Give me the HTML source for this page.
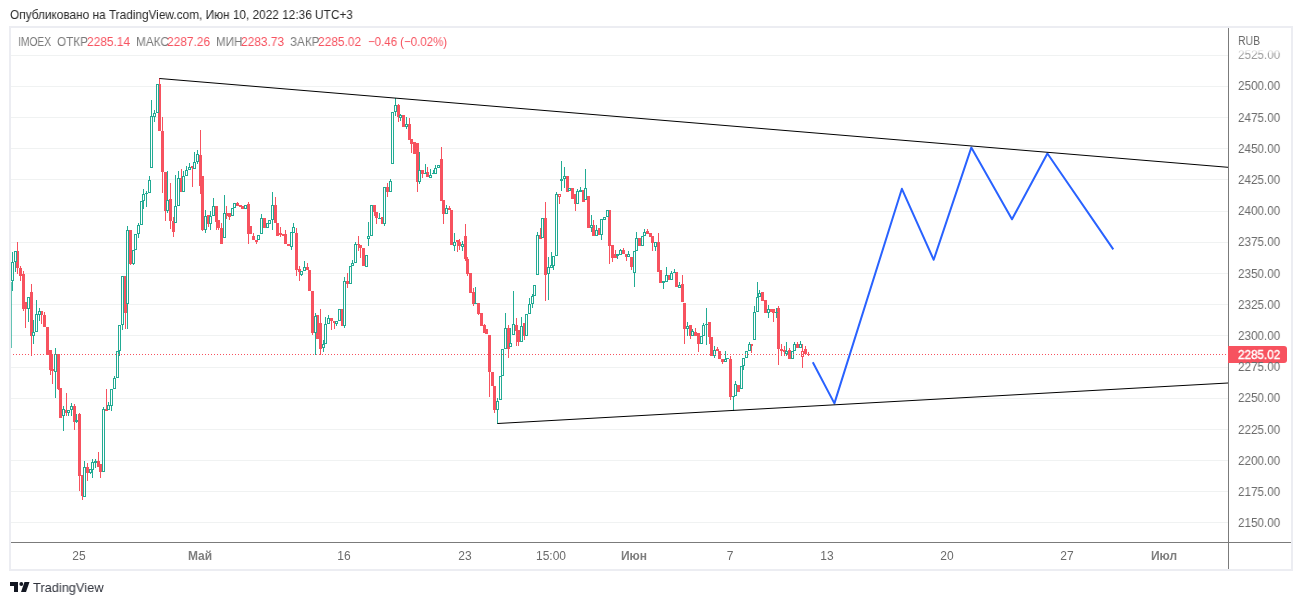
<!DOCTYPE html>
<html><head><meta charset="utf-8">
<style>
html,body{margin:0;padding:0;background:#fff;}
body{width:1302px;height:605px;position:relative;overflow:hidden;font-family:"Liberation Sans",sans-serif;}
.hdr{position:absolute;left:10px;top:6px;font-size:12px;color:#131722;white-space:nowrap;line-height:16px;}
.frame{position:absolute;left:9px;top:26px;width:1280px;height:541px;border:2px solid #ecedf2;}
svg{position:absolute;left:0;top:0;}
.leg{position:absolute;left:19px;top:33px;font-size:12px;line-height:16px;white-space:nowrap;color:#787b86;}
.leg .v{color:#f7525f;}
.pl{position:absolute;left:1238px;width:50px;font-size:12px;line-height:14px;color:#6b6b6b;white-space:nowrap;}
.tl{position:absolute;will-change:transform;top:549px;width:80px;text-align:center;font-size:12px;line-height:14px;color:#6b6b6b;white-space:nowrap;}
.tl.b{font-weight:bold;color:#7e7e7e;}
.rub{position:absolute;left:1238px;top:33px;font-size:12px;line-height:14px;color:#6b6b6b;}
.pbox{position:absolute;left:1228px;top:346px;width:59px;height:17px;background:#f7525f;border-radius:0 3px 3px 0;}
.t{position:absolute;white-space:nowrap;line-height:1;transform-origin:0 0;will-change:transform;}
.foot{position:absolute;left:33px;top:579px;font-size:13px;line-height:16px;color:#131722;white-space:nowrap;}
</style></head><body>
<div class="frame"></div>
<svg width="1302" height="605" shape-rendering="crispEdges">
<rect x="11" y="55" width="1217" height="1" fill="#f0f2f2"/>
<rect x="11" y="86" width="1217" height="1" fill="#f0f2f2"/>
<rect x="11" y="117" width="1217" height="1" fill="#f0f2f2"/>
<rect x="11" y="148" width="1217" height="1" fill="#f0f2f2"/>
<rect x="11" y="179" width="1217" height="1" fill="#f0f2f2"/>
<rect x="11" y="211" width="1217" height="1" fill="#f0f2f2"/>
<rect x="11" y="242" width="1217" height="1" fill="#f0f2f2"/>
<rect x="11" y="273" width="1217" height="1" fill="#f0f2f2"/>
<rect x="11" y="304" width="1217" height="1" fill="#f0f2f2"/>
<rect x="11" y="335" width="1217" height="1" fill="#f0f2f2"/>
<rect x="11" y="367" width="1217" height="1" fill="#f0f2f2"/>
<rect x="11" y="398" width="1217" height="1" fill="#f0f2f2"/>
<rect x="11" y="429" width="1217" height="1" fill="#f0f2f2"/>
<rect x="11" y="460" width="1217" height="1" fill="#f0f2f2"/>
<rect x="11" y="491" width="1217" height="1" fill="#f0f2f2"/>
<rect x="11" y="522" width="1217" height="1" fill="#f0f2f2"/>
<rect x="1228" y="28" width="1" height="541" fill="#7b7b7b"/>
<rect x="11" y="542" width="1280" height="1" fill="#7b7b7b"/>
</svg>
<svg width="1302" height="605">
<defs><clipPath id="cp"><rect x="11" y="28" width="1217" height="514"/></clipPath></defs>
<g clip-path="url(#cp)" shape-rendering="crispEdges">
<rect x="17" y="242" width="1" height="32" fill="#f7525f"/>
<rect x="16" y="251" width="3" height="17" fill="#f7525f"/>
<rect x="20" y="266" width="1" height="15" fill="#f7525f"/>
<rect x="19" y="268" width="3" height="8" fill="#f7525f"/>
<rect x="23" y="271" width="1" height="40" fill="#f7525f"/>
<rect x="22" y="274" width="3" height="35" fill="#f7525f"/>
<rect x="25" y="302" width="1" height="26" fill="#f7525f"/>
<rect x="24" y="302" width="3" height="7" fill="#f7525f"/>
<rect x="31" y="284" width="1" height="72" fill="#f7525f"/>
<rect x="30" y="292" width="3" height="44" fill="#f7525f"/>
<rect x="41" y="311" width="1" height="13" fill="#f7525f"/>
<rect x="40" y="311" width="3" height="4" fill="#f7525f"/>
<rect x="44" y="312" width="1" height="15" fill="#f7525f"/>
<rect x="43" y="315" width="3" height="12" fill="#f7525f"/>
<rect x="47" y="327" width="1" height="28" fill="#f7525f"/>
<rect x="46" y="327" width="3" height="28" fill="#f7525f"/>
<rect x="50" y="350" width="1" height="25" fill="#f7525f"/>
<rect x="49" y="350" width="3" height="20" fill="#f7525f"/>
<rect x="52" y="355" width="1" height="29" fill="#f7525f"/>
<rect x="51" y="369" width="3" height="2" fill="#f7525f"/>
<rect x="58" y="354" width="1" height="36" fill="#f7525f"/>
<rect x="57" y="354" width="3" height="35" fill="#f7525f"/>
<rect x="60" y="388" width="1" height="30" fill="#f7525f"/>
<rect x="59" y="388" width="3" height="30" fill="#f7525f"/>
<rect x="66" y="393" width="1" height="23" fill="#f7525f"/>
<rect x="65" y="410" width="3" height="3" fill="#f7525f"/>
<rect x="74" y="404" width="1" height="26" fill="#f7525f"/>
<rect x="73" y="406" width="3" height="16" fill="#f7525f"/>
<rect x="79" y="413" width="1" height="78" fill="#f7525f"/>
<rect x="78" y="414" width="3" height="62" fill="#f7525f"/>
<rect x="82" y="475" width="1" height="25" fill="#f7525f"/>
<rect x="81" y="475" width="3" height="21" fill="#f7525f"/>
<rect x="87" y="463" width="1" height="18" fill="#f7525f"/>
<rect x="86" y="467" width="3" height="6" fill="#f7525f"/>
<rect x="98" y="452" width="1" height="15" fill="#f7525f"/>
<rect x="97" y="461" width="3" height="6" fill="#f7525f"/>
<rect x="100" y="464" width="1" height="14" fill="#f7525f"/>
<rect x="99" y="464" width="3" height="8" fill="#f7525f"/>
<rect x="106" y="389" width="1" height="22" fill="#f7525f"/>
<rect x="105" y="409" width="3" height="2" fill="#f7525f"/>
<rect x="125" y="276" width="1" height="53" fill="#f7525f"/>
<rect x="124" y="276" width="3" height="37" fill="#f7525f"/>
<rect x="130" y="230" width="1" height="35" fill="#f7525f"/>
<rect x="129" y="230" width="3" height="34" fill="#f7525f"/>
<rect x="159" y="78" width="1" height="53" fill="#f7525f"/>
<rect x="158" y="84" width="3" height="47" fill="#f7525f"/>
<rect x="162" y="117" width="1" height="76" fill="#f7525f"/>
<rect x="161" y="131" width="3" height="41" fill="#f7525f"/>
<rect x="165" y="172" width="1" height="49" fill="#f7525f"/>
<rect x="164" y="172" width="3" height="39" fill="#f7525f"/>
<rect x="170" y="183" width="1" height="46" fill="#f7525f"/>
<rect x="169" y="199" width="3" height="22" fill="#f7525f"/>
<rect x="173" y="217" width="1" height="20" fill="#f7525f"/>
<rect x="172" y="221" width="3" height="11" fill="#f7525f"/>
<rect x="181" y="169" width="1" height="23" fill="#f7525f"/>
<rect x="180" y="178" width="3" height="14" fill="#f7525f"/>
<rect x="192" y="166" width="1" height="21" fill="#f7525f"/>
<rect x="191" y="166" width="3" height="2" fill="#f7525f"/>
<rect x="200" y="130" width="1" height="64" fill="#f7525f"/>
<rect x="199" y="155" width="3" height="31" fill="#f7525f"/>
<rect x="202" y="176" width="1" height="55" fill="#f7525f"/>
<rect x="201" y="176" width="3" height="54" fill="#f7525f"/>
<rect x="208" y="215" width="1" height="12" fill="#f7525f"/>
<rect x="207" y="215" width="3" height="9" fill="#f7525f"/>
<rect x="216" y="206" width="1" height="24" fill="#f7525f"/>
<rect x="215" y="206" width="3" height="16" fill="#f7525f"/>
<rect x="218" y="220" width="1" height="10" fill="#f7525f"/>
<rect x="217" y="220" width="3" height="8" fill="#f7525f"/>
<rect x="221" y="223" width="1" height="21" fill="#f7525f"/>
<rect x="220" y="228" width="3" height="16" fill="#f7525f"/>
<rect x="226" y="206" width="1" height="13" fill="#f7525f"/>
<rect x="225" y="213" width="3" height="3" fill="#f7525f"/>
<rect x="229" y="213" width="1" height="7" fill="#f7525f"/>
<rect x="228" y="213" width="3" height="4" fill="#f7525f"/>
<rect x="237" y="202" width="1" height="4" fill="#f7525f"/>
<rect x="236" y="203" width="3" height="3" fill="#f7525f"/>
<rect x="240" y="205" width="1" height="2" fill="#f7525f"/>
<rect x="239" y="205" width="3" height="2" fill="#f7525f"/>
<rect x="242" y="206" width="1" height="3" fill="#f7525f"/>
<rect x="241" y="206" width="3" height="3" fill="#f7525f"/>
<rect x="248" y="202" width="1" height="42" fill="#f7525f"/>
<rect x="247" y="204" width="3" height="30" fill="#f7525f"/>
<rect x="250" y="226" width="1" height="8" fill="#f7525f"/>
<rect x="249" y="226" width="3" height="8" fill="#f7525f"/>
<rect x="253" y="233" width="1" height="7" fill="#f7525f"/>
<rect x="252" y="236" width="3" height="4" fill="#f7525f"/>
<rect x="256" y="240" width="1" height="4" fill="#f7525f"/>
<rect x="255" y="240" width="3" height="2" fill="#f7525f"/>
<rect x="264" y="218" width="1" height="10" fill="#f7525f"/>
<rect x="263" y="218" width="3" height="10" fill="#f7525f"/>
<rect x="275" y="197" width="1" height="26" fill="#f7525f"/>
<rect x="274" y="205" width="3" height="18" fill="#f7525f"/>
<rect x="277" y="223" width="1" height="13" fill="#f7525f"/>
<rect x="276" y="223" width="3" height="13" fill="#f7525f"/>
<rect x="280" y="227" width="1" height="10" fill="#f7525f"/>
<rect x="279" y="233" width="3" height="2" fill="#f7525f"/>
<rect x="283" y="234" width="1" height="2" fill="#f7525f"/>
<rect x="282" y="234" width="3" height="2" fill="#f7525f"/>
<rect x="285" y="230" width="1" height="14" fill="#f7525f"/>
<rect x="284" y="234" width="3" height="10" fill="#f7525f"/>
<rect x="288" y="244" width="1" height="2" fill="#f7525f"/>
<rect x="287" y="244" width="3" height="2" fill="#f7525f"/>
<rect x="296" y="228" width="1" height="48" fill="#f7525f"/>
<rect x="295" y="233" width="3" height="37" fill="#f7525f"/>
<rect x="299" y="266" width="1" height="15" fill="#f7525f"/>
<rect x="298" y="269" width="3" height="3" fill="#f7525f"/>
<rect x="307" y="263" width="1" height="7" fill="#f7525f"/>
<rect x="306" y="267" width="3" height="3" fill="#f7525f"/>
<rect x="309" y="270" width="1" height="21" fill="#f7525f"/>
<rect x="308" y="270" width="3" height="21" fill="#f7525f"/>
<rect x="312" y="291" width="1" height="44" fill="#f7525f"/>
<rect x="311" y="291" width="3" height="42" fill="#f7525f"/>
<rect x="317" y="315" width="1" height="24" fill="#f7525f"/>
<rect x="316" y="315" width="3" height="24" fill="#f7525f"/>
<rect x="320" y="309" width="1" height="46" fill="#f7525f"/>
<rect x="319" y="323" width="3" height="26" fill="#f7525f"/>
<rect x="331" y="318" width="1" height="12" fill="#f7525f"/>
<rect x="330" y="318" width="3" height="3" fill="#f7525f"/>
<rect x="334" y="321" width="1" height="8" fill="#f7525f"/>
<rect x="333" y="321" width="3" height="2" fill="#f7525f"/>
<rect x="342" y="309" width="1" height="17" fill="#f7525f"/>
<rect x="341" y="309" width="3" height="17" fill="#f7525f"/>
<rect x="347" y="273" width="1" height="15" fill="#f7525f"/>
<rect x="346" y="281" width="3" height="3" fill="#f7525f"/>
<rect x="358" y="236" width="1" height="15" fill="#f7525f"/>
<rect x="357" y="244" width="3" height="1" fill="#f7525f"/>
<rect x="360" y="245" width="1" height="13" fill="#f7525f"/>
<rect x="359" y="245" width="3" height="3" fill="#f7525f"/>
<rect x="363" y="248" width="1" height="18" fill="#f7525f"/>
<rect x="362" y="248" width="3" height="18" fill="#f7525f"/>
<rect x="374" y="205" width="1" height="11" fill="#f7525f"/>
<rect x="373" y="205" width="3" height="7" fill="#f7525f"/>
<rect x="376" y="212" width="1" height="12" fill="#f7525f"/>
<rect x="375" y="212" width="3" height="6" fill="#f7525f"/>
<rect x="382" y="217" width="1" height="7" fill="#f7525f"/>
<rect x="381" y="217" width="3" height="7" fill="#f7525f"/>
<rect x="387" y="183" width="1" height="14" fill="#f7525f"/>
<rect x="386" y="187" width="3" height="5" fill="#f7525f"/>
<rect x="398" y="104" width="1" height="18" fill="#f7525f"/>
<rect x="397" y="105" width="3" height="12" fill="#f7525f"/>
<rect x="403" y="115" width="1" height="12" fill="#f7525f"/>
<rect x="402" y="115" width="3" height="12" fill="#f7525f"/>
<rect x="409" y="118" width="1" height="22" fill="#f7525f"/>
<rect x="408" y="124" width="3" height="16" fill="#f7525f"/>
<rect x="411" y="139" width="1" height="14" fill="#f7525f"/>
<rect x="410" y="139" width="3" height="5" fill="#f7525f"/>
<rect x="414" y="142" width="1" height="12" fill="#f7525f"/>
<rect x="413" y="142" width="3" height="12" fill="#f7525f"/>
<rect x="417" y="143" width="1" height="49" fill="#f7525f"/>
<rect x="416" y="143" width="3" height="39" fill="#f7525f"/>
<rect x="422" y="170" width="1" height="8" fill="#f7525f"/>
<rect x="421" y="170" width="3" height="4" fill="#f7525f"/>
<rect x="427" y="167" width="1" height="10" fill="#f7525f"/>
<rect x="426" y="172" width="3" height="5" fill="#f7525f"/>
<rect x="441" y="147" width="1" height="54" fill="#f7525f"/>
<rect x="440" y="159" width="3" height="42" fill="#f7525f"/>
<rect x="443" y="200" width="1" height="24" fill="#f7525f"/>
<rect x="442" y="200" width="3" height="14" fill="#f7525f"/>
<rect x="449" y="206" width="1" height="4" fill="#f7525f"/>
<rect x="448" y="208" width="3" height="2" fill="#f7525f"/>
<rect x="451" y="210" width="1" height="35" fill="#f7525f"/>
<rect x="450" y="210" width="3" height="35" fill="#f7525f"/>
<rect x="457" y="240" width="1" height="12" fill="#f7525f"/>
<rect x="456" y="240" width="3" height="2" fill="#f7525f"/>
<rect x="459" y="239" width="1" height="11" fill="#f7525f"/>
<rect x="458" y="242" width="3" height="4" fill="#f7525f"/>
<rect x="465" y="224" width="1" height="37" fill="#f7525f"/>
<rect x="464" y="236" width="3" height="23" fill="#f7525f"/>
<rect x="467" y="257" width="1" height="19" fill="#f7525f"/>
<rect x="466" y="259" width="3" height="15" fill="#f7525f"/>
<rect x="470" y="273" width="1" height="20" fill="#f7525f"/>
<rect x="469" y="273" width="3" height="20" fill="#f7525f"/>
<rect x="473" y="288" width="1" height="18" fill="#f7525f"/>
<rect x="472" y="292" width="3" height="12" fill="#f7525f"/>
<rect x="478" y="303" width="1" height="12" fill="#f7525f"/>
<rect x="477" y="303" width="3" height="11" fill="#f7525f"/>
<rect x="481" y="313" width="1" height="13" fill="#f7525f"/>
<rect x="480" y="313" width="3" height="13" fill="#f7525f"/>
<rect x="484" y="324" width="1" height="9" fill="#f7525f"/>
<rect x="483" y="325" width="3" height="8" fill="#f7525f"/>
<rect x="486" y="329" width="1" height="5" fill="#f7525f"/>
<rect x="485" y="329" width="3" height="5" fill="#f7525f"/>
<rect x="489" y="335" width="1" height="62" fill="#f7525f"/>
<rect x="488" y="335" width="3" height="37" fill="#f7525f"/>
<rect x="492" y="372" width="1" height="14" fill="#f7525f"/>
<rect x="491" y="372" width="3" height="14" fill="#f7525f"/>
<rect x="494" y="386" width="1" height="27" fill="#f7525f"/>
<rect x="493" y="386" width="3" height="24" fill="#f7525f"/>
<rect x="508" y="325" width="1" height="33" fill="#f7525f"/>
<rect x="507" y="328" width="3" height="21" fill="#f7525f"/>
<rect x="516" y="318" width="1" height="28" fill="#f7525f"/>
<rect x="515" y="325" width="3" height="6" fill="#f7525f"/>
<rect x="518" y="330" width="1" height="16" fill="#f7525f"/>
<rect x="517" y="330" width="3" height="12" fill="#f7525f"/>
<rect x="524" y="323" width="1" height="17" fill="#f7525f"/>
<rect x="523" y="323" width="3" height="13" fill="#f7525f"/>
<rect x="540" y="228" width="1" height="11" fill="#f7525f"/>
<rect x="539" y="235" width="3" height="4" fill="#f7525f"/>
<rect x="545" y="202" width="1" height="99" fill="#f7525f"/>
<rect x="544" y="218" width="3" height="57" fill="#f7525f"/>
<rect x="559" y="197" width="1" height="7" fill="#f7525f"/>
<rect x="558" y="194" width="3" height="1" fill="#f7525f"/>
<rect x="558" y="196" width="3" height="1" fill="#f7525f"/>
<rect x="558" y="194" width="1" height="3" fill="#f7525f"/>
<rect x="560" y="194" width="1" height="3" fill="#f7525f"/>
<rect x="567" y="176" width="1" height="16" fill="#f7525f"/>
<rect x="566" y="176" width="3" height="16" fill="#f7525f"/>
<rect x="572" y="188" width="1" height="11" fill="#f7525f"/>
<rect x="571" y="188" width="3" height="11" fill="#f7525f"/>
<rect x="575" y="194" width="1" height="17" fill="#f7525f"/>
<rect x="574" y="194" width="3" height="10" fill="#f7525f"/>
<rect x="583" y="190" width="1" height="12" fill="#f7525f"/>
<rect x="582" y="190" width="3" height="12" fill="#f7525f"/>
<rect x="588" y="196" width="1" height="32" fill="#f7525f"/>
<rect x="587" y="196" width="3" height="32" fill="#f7525f"/>
<rect x="593" y="220" width="1" height="16" fill="#f7525f"/>
<rect x="592" y="225" width="3" height="11" fill="#f7525f"/>
<rect x="599" y="228" width="1" height="7" fill="#f7525f"/>
<rect x="598" y="228" width="3" height="7" fill="#f7525f"/>
<rect x="609" y="210" width="1" height="54" fill="#f7525f"/>
<rect x="608" y="210" width="3" height="36" fill="#f7525f"/>
<rect x="612" y="245" width="1" height="17" fill="#f7525f"/>
<rect x="611" y="245" width="3" height="13" fill="#f7525f"/>
<rect x="615" y="250" width="1" height="8" fill="#f7525f"/>
<rect x="614" y="254" width="3" height="4" fill="#f7525f"/>
<rect x="623" y="248" width="1" height="6" fill="#f7525f"/>
<rect x="622" y="250" width="3" height="4" fill="#f7525f"/>
<rect x="626" y="254" width="1" height="7" fill="#f7525f"/>
<rect x="625" y="254" width="3" height="3" fill="#f7525f"/>
<rect x="631" y="257" width="1" height="13" fill="#f7525f"/>
<rect x="630" y="257" width="3" height="10" fill="#f7525f"/>
<rect x="639" y="238" width="1" height="8" fill="#f7525f"/>
<rect x="638" y="238" width="3" height="8" fill="#f7525f"/>
<rect x="647" y="229" width="1" height="5" fill="#f7525f"/>
<rect x="646" y="231" width="3" height="3" fill="#f7525f"/>
<rect x="650" y="233" width="1" height="4" fill="#f7525f"/>
<rect x="649" y="233" width="3" height="4" fill="#f7525f"/>
<rect x="652" y="236" width="1" height="15" fill="#f7525f"/>
<rect x="651" y="236" width="3" height="7" fill="#f7525f"/>
<rect x="658" y="233" width="1" height="39" fill="#f7525f"/>
<rect x="657" y="242" width="3" height="30" fill="#f7525f"/>
<rect x="660" y="270" width="1" height="13" fill="#f7525f"/>
<rect x="659" y="270" width="3" height="13" fill="#f7525f"/>
<rect x="668" y="275" width="1" height="5" fill="#f7525f"/>
<rect x="667" y="275" width="3" height="5" fill="#f7525f"/>
<rect x="676" y="272" width="1" height="15" fill="#f7525f"/>
<rect x="675" y="272" width="3" height="15" fill="#f7525f"/>
<rect x="682" y="275" width="1" height="27" fill="#f7525f"/>
<rect x="681" y="284" width="3" height="18" fill="#f7525f"/>
<rect x="684" y="303" width="1" height="41" fill="#f7525f"/>
<rect x="683" y="303" width="3" height="26" fill="#f7525f"/>
<rect x="690" y="325" width="1" height="14" fill="#f7525f"/>
<rect x="689" y="325" width="3" height="11" fill="#f7525f"/>
<rect x="695" y="328" width="1" height="8" fill="#f7525f"/>
<rect x="694" y="332" width="3" height="4" fill="#f7525f"/>
<rect x="698" y="333" width="1" height="19" fill="#f7525f"/>
<rect x="697" y="333" width="3" height="11" fill="#f7525f"/>
<rect x="709" y="322" width="1" height="22" fill="#f7525f"/>
<rect x="708" y="322" width="3" height="15" fill="#f7525f"/>
<rect x="711" y="337" width="1" height="19" fill="#f7525f"/>
<rect x="710" y="337" width="3" height="19" fill="#f7525f"/>
<rect x="717" y="347" width="1" height="4" fill="#f7525f"/>
<rect x="716" y="349" width="3" height="2" fill="#f7525f"/>
<rect x="719" y="351" width="1" height="8" fill="#f7525f"/>
<rect x="718" y="351" width="3" height="8" fill="#f7525f"/>
<rect x="722" y="359" width="1" height="5" fill="#f7525f"/>
<rect x="721" y="359" width="3" height="3" fill="#f7525f"/>
<rect x="730" y="356" width="1" height="44" fill="#f7525f"/>
<rect x="729" y="359" width="3" height="38" fill="#f7525f"/>
<rect x="738" y="385" width="1" height="7" fill="#f7525f"/>
<rect x="737" y="385" width="3" height="7" fill="#f7525f"/>
<rect x="751" y="344" width="1" height="9" fill="#f7525f"/>
<rect x="750" y="344" width="3" height="2" fill="#f7525f"/>
<rect x="762" y="292" width="1" height="9" fill="#f7525f"/>
<rect x="761" y="292" width="3" height="9" fill="#f7525f"/>
<rect x="765" y="300" width="1" height="13" fill="#f7525f"/>
<rect x="764" y="300" width="3" height="13" fill="#f7525f"/>
<rect x="770" y="309" width="1" height="3" fill="#f7525f"/>
<rect x="769" y="309" width="3" height="3" fill="#f7525f"/>
<rect x="773" y="309" width="1" height="13" fill="#f7525f"/>
<rect x="772" y="309" width="3" height="4" fill="#f7525f"/>
<rect x="778" y="306" width="1" height="59" fill="#f7525f"/>
<rect x="777" y="308" width="3" height="41" fill="#f7525f"/>
<rect x="781" y="344" width="1" height="12" fill="#f7525f"/>
<rect x="780" y="349" width="3" height="2" fill="#f7525f"/>
<rect x="784" y="346" width="1" height="10" fill="#f7525f"/>
<rect x="783" y="350" width="3" height="2" fill="#f7525f"/>
<rect x="789" y="348" width="1" height="11" fill="#f7525f"/>
<rect x="788" y="350" width="3" height="9" fill="#f7525f"/>
<rect x="797" y="342" width="1" height="6" fill="#f7525f"/>
<rect x="796" y="344" width="3" height="4" fill="#f7525f"/>
<rect x="802" y="344" width="1" height="7" fill="#f7525f"/>
<rect x="802" y="357" width="1" height="11" fill="#f7525f"/>
<rect x="801" y="351" width="3" height="1" fill="#f7525f"/>
<rect x="801" y="356" width="3" height="1" fill="#f7525f"/>
<rect x="801" y="351" width="1" height="6" fill="#f7525f"/>
<rect x="803" y="351" width="1" height="6" fill="#f7525f"/>
<rect x="805" y="346" width="1" height="8" fill="#f7525f"/>
<rect x="804" y="349" width="3" height="5" fill="#f7525f"/>
<rect x="808" y="352" width="1" height="4" fill="#f7525f"/>
<rect x="807" y="354" width="3" height="1" fill="#f7525f"/>
<rect x="8" y="282" width="3" height="1" fill="#22ab94"/>
<rect x="8" y="347" width="3" height="1" fill="#22ab94"/>
<rect x="8" y="282" width="1" height="66" fill="#22ab94"/>
<rect x="10" y="282" width="1" height="66" fill="#22ab94"/>
<rect x="12" y="252" width="1" height="10" fill="#22ab94"/>
<rect x="12" y="281" width="1" height="10" fill="#22ab94"/>
<rect x="11" y="262" width="3" height="1" fill="#22ab94"/>
<rect x="11" y="280" width="3" height="1" fill="#22ab94"/>
<rect x="11" y="262" width="1" height="19" fill="#22ab94"/>
<rect x="13" y="262" width="1" height="19" fill="#22ab94"/>
<rect x="15" y="262" width="1" height="10" fill="#22ab94"/>
<rect x="14" y="251" width="3" height="1" fill="#22ab94"/>
<rect x="14" y="261" width="3" height="1" fill="#22ab94"/>
<rect x="14" y="251" width="1" height="11" fill="#22ab94"/>
<rect x="16" y="251" width="1" height="11" fill="#22ab94"/>
<rect x="28" y="309" width="1" height="13" fill="#22ab94"/>
<rect x="27" y="297" width="3" height="1" fill="#22ab94"/>
<rect x="27" y="308" width="3" height="1" fill="#22ab94"/>
<rect x="27" y="297" width="1" height="12" fill="#22ab94"/>
<rect x="29" y="297" width="1" height="12" fill="#22ab94"/>
<rect x="33" y="320" width="1" height="12" fill="#22ab94"/>
<rect x="33" y="336" width="1" height="8" fill="#22ab94"/>
<rect x="32" y="332" width="3" height="1" fill="#22ab94"/>
<rect x="32" y="335" width="3" height="1" fill="#22ab94"/>
<rect x="32" y="332" width="1" height="4" fill="#22ab94"/>
<rect x="34" y="332" width="1" height="4" fill="#22ab94"/>
<rect x="36" y="300" width="1" height="14" fill="#22ab94"/>
<rect x="35" y="314" width="3" height="1" fill="#22ab94"/>
<rect x="35" y="331" width="3" height="1" fill="#22ab94"/>
<rect x="35" y="314" width="1" height="18" fill="#22ab94"/>
<rect x="37" y="314" width="1" height="18" fill="#22ab94"/>
<rect x="39" y="308" width="1" height="3" fill="#22ab94"/>
<rect x="39" y="315" width="1" height="6" fill="#22ab94"/>
<rect x="38" y="311" width="3" height="1" fill="#22ab94"/>
<rect x="38" y="314" width="3" height="1" fill="#22ab94"/>
<rect x="38" y="311" width="1" height="4" fill="#22ab94"/>
<rect x="40" y="311" width="1" height="4" fill="#22ab94"/>
<rect x="55" y="348" width="1" height="6" fill="#22ab94"/>
<rect x="55" y="372" width="1" height="26" fill="#22ab94"/>
<rect x="54" y="354" width="3" height="1" fill="#22ab94"/>
<rect x="54" y="371" width="3" height="1" fill="#22ab94"/>
<rect x="54" y="354" width="1" height="18" fill="#22ab94"/>
<rect x="56" y="354" width="1" height="18" fill="#22ab94"/>
<rect x="63" y="406" width="1" height="3" fill="#22ab94"/>
<rect x="63" y="416" width="1" height="15" fill="#22ab94"/>
<rect x="62" y="409" width="3" height="1" fill="#22ab94"/>
<rect x="62" y="415" width="3" height="1" fill="#22ab94"/>
<rect x="62" y="409" width="1" height="7" fill="#22ab94"/>
<rect x="64" y="409" width="1" height="7" fill="#22ab94"/>
<rect x="68" y="413" width="1" height="3" fill="#22ab94"/>
<rect x="67" y="410" width="3" height="1" fill="#22ab94"/>
<rect x="67" y="412" width="3" height="1" fill="#22ab94"/>
<rect x="67" y="410" width="1" height="3" fill="#22ab94"/>
<rect x="69" y="410" width="1" height="3" fill="#22ab94"/>
<rect x="71" y="403" width="1" height="3" fill="#22ab94"/>
<rect x="71" y="410" width="1" height="6" fill="#22ab94"/>
<rect x="70" y="406" width="3" height="1" fill="#22ab94"/>
<rect x="70" y="409" width="3" height="1" fill="#22ab94"/>
<rect x="70" y="406" width="1" height="4" fill="#22ab94"/>
<rect x="72" y="406" width="1" height="4" fill="#22ab94"/>
<rect x="76" y="414" width="1" height="6" fill="#22ab94"/>
<rect x="76" y="422" width="1" height="1" fill="#22ab94"/>
<rect x="75" y="420" width="3" height="2" fill="#22ab94"/>
<rect x="84" y="461" width="1" height="6" fill="#22ab94"/>
<rect x="83" y="467" width="3" height="1" fill="#22ab94"/>
<rect x="83" y="496" width="3" height="1" fill="#22ab94"/>
<rect x="83" y="467" width="1" height="30" fill="#22ab94"/>
<rect x="85" y="467" width="1" height="30" fill="#22ab94"/>
<rect x="90" y="473" width="1" height="1" fill="#22ab94"/>
<rect x="89" y="469" width="3" height="1" fill="#22ab94"/>
<rect x="89" y="472" width="3" height="1" fill="#22ab94"/>
<rect x="89" y="469" width="1" height="4" fill="#22ab94"/>
<rect x="91" y="469" width="1" height="4" fill="#22ab94"/>
<rect x="92" y="459" width="1" height="3" fill="#22ab94"/>
<rect x="92" y="470" width="1" height="8" fill="#22ab94"/>
<rect x="91" y="462" width="3" height="1" fill="#22ab94"/>
<rect x="91" y="469" width="3" height="1" fill="#22ab94"/>
<rect x="91" y="462" width="1" height="8" fill="#22ab94"/>
<rect x="93" y="462" width="1" height="8" fill="#22ab94"/>
<rect x="95" y="459" width="1" height="2" fill="#22ab94"/>
<rect x="95" y="463" width="1" height="5" fill="#22ab94"/>
<rect x="94" y="461" width="3" height="2" fill="#22ab94"/>
<rect x="103" y="407" width="1" height="2" fill="#22ab94"/>
<rect x="102" y="409" width="3" height="1" fill="#22ab94"/>
<rect x="102" y="471" width="3" height="1" fill="#22ab94"/>
<rect x="102" y="409" width="1" height="63" fill="#22ab94"/>
<rect x="104" y="409" width="1" height="63" fill="#22ab94"/>
<rect x="108" y="402" width="1" height="3" fill="#22ab94"/>
<rect x="107" y="405" width="3" height="1" fill="#22ab94"/>
<rect x="107" y="409" width="3" height="1" fill="#22ab94"/>
<rect x="107" y="405" width="1" height="5" fill="#22ab94"/>
<rect x="109" y="405" width="1" height="5" fill="#22ab94"/>
<rect x="111" y="406" width="1" height="5" fill="#22ab94"/>
<rect x="110" y="389" width="3" height="1" fill="#22ab94"/>
<rect x="110" y="405" width="3" height="1" fill="#22ab94"/>
<rect x="110" y="389" width="1" height="17" fill="#22ab94"/>
<rect x="112" y="389" width="1" height="17" fill="#22ab94"/>
<rect x="114" y="376" width="1" height="2" fill="#22ab94"/>
<rect x="113" y="378" width="3" height="1" fill="#22ab94"/>
<rect x="113" y="388" width="3" height="1" fill="#22ab94"/>
<rect x="113" y="378" width="1" height="11" fill="#22ab94"/>
<rect x="115" y="378" width="1" height="11" fill="#22ab94"/>
<rect x="116" y="351" width="3" height="1" fill="#22ab94"/>
<rect x="116" y="377" width="3" height="1" fill="#22ab94"/>
<rect x="116" y="351" width="1" height="27" fill="#22ab94"/>
<rect x="118" y="351" width="1" height="27" fill="#22ab94"/>
<rect x="119" y="351" width="1" height="5" fill="#22ab94"/>
<rect x="118" y="325" width="3" height="1" fill="#22ab94"/>
<rect x="118" y="350" width="3" height="1" fill="#22ab94"/>
<rect x="118" y="325" width="1" height="26" fill="#22ab94"/>
<rect x="120" y="325" width="1" height="26" fill="#22ab94"/>
<rect x="122" y="325" width="1" height="5" fill="#22ab94"/>
<rect x="121" y="276" width="3" height="1" fill="#22ab94"/>
<rect x="121" y="324" width="3" height="1" fill="#22ab94"/>
<rect x="121" y="276" width="1" height="49" fill="#22ab94"/>
<rect x="123" y="276" width="1" height="49" fill="#22ab94"/>
<rect x="127" y="226" width="1" height="4" fill="#22ab94"/>
<rect x="127" y="304" width="1" height="25" fill="#22ab94"/>
<rect x="126" y="230" width="3" height="1" fill="#22ab94"/>
<rect x="126" y="303" width="3" height="1" fill="#22ab94"/>
<rect x="126" y="230" width="1" height="74" fill="#22ab94"/>
<rect x="128" y="230" width="1" height="74" fill="#22ab94"/>
<rect x="133" y="264" width="1" height="1" fill="#22ab94"/>
<rect x="132" y="250" width="3" height="1" fill="#22ab94"/>
<rect x="132" y="263" width="3" height="1" fill="#22ab94"/>
<rect x="132" y="250" width="1" height="14" fill="#22ab94"/>
<rect x="134" y="250" width="1" height="14" fill="#22ab94"/>
<rect x="134" y="234" width="3" height="1" fill="#22ab94"/>
<rect x="134" y="249" width="3" height="1" fill="#22ab94"/>
<rect x="134" y="234" width="1" height="16" fill="#22ab94"/>
<rect x="136" y="234" width="1" height="16" fill="#22ab94"/>
<rect x="138" y="223" width="1" height="2" fill="#22ab94"/>
<rect x="138" y="234" width="1" height="4" fill="#22ab94"/>
<rect x="137" y="225" width="3" height="1" fill="#22ab94"/>
<rect x="137" y="233" width="3" height="1" fill="#22ab94"/>
<rect x="137" y="225" width="1" height="9" fill="#22ab94"/>
<rect x="139" y="225" width="1" height="9" fill="#22ab94"/>
<rect x="140" y="201" width="3" height="1" fill="#22ab94"/>
<rect x="140" y="224" width="3" height="1" fill="#22ab94"/>
<rect x="140" y="201" width="1" height="24" fill="#22ab94"/>
<rect x="142" y="201" width="1" height="24" fill="#22ab94"/>
<rect x="143" y="189" width="1" height="5" fill="#22ab94"/>
<rect x="143" y="201" width="1" height="8" fill="#22ab94"/>
<rect x="142" y="194" width="3" height="1" fill="#22ab94"/>
<rect x="142" y="200" width="3" height="1" fill="#22ab94"/>
<rect x="142" y="194" width="1" height="7" fill="#22ab94"/>
<rect x="144" y="194" width="1" height="7" fill="#22ab94"/>
<rect x="146" y="191" width="1" height="2" fill="#22ab94"/>
<rect x="146" y="194" width="1" height="13" fill="#22ab94"/>
<rect x="145" y="193" width="3" height="1" fill="#22ab94"/>
<rect x="149" y="176" width="1" height="4" fill="#22ab94"/>
<rect x="148" y="180" width="3" height="1" fill="#22ab94"/>
<rect x="148" y="192" width="3" height="1" fill="#22ab94"/>
<rect x="148" y="180" width="1" height="13" fill="#22ab94"/>
<rect x="150" y="180" width="1" height="13" fill="#22ab94"/>
<rect x="151" y="100" width="1" height="16" fill="#22ab94"/>
<rect x="150" y="116" width="3" height="1" fill="#22ab94"/>
<rect x="150" y="167" width="3" height="1" fill="#22ab94"/>
<rect x="150" y="116" width="1" height="52" fill="#22ab94"/>
<rect x="152" y="116" width="1" height="52" fill="#22ab94"/>
<rect x="154" y="110" width="1" height="3" fill="#22ab94"/>
<rect x="154" y="117" width="1" height="5" fill="#22ab94"/>
<rect x="153" y="113" width="3" height="1" fill="#22ab94"/>
<rect x="153" y="116" width="3" height="1" fill="#22ab94"/>
<rect x="153" y="113" width="1" height="4" fill="#22ab94"/>
<rect x="155" y="113" width="1" height="4" fill="#22ab94"/>
<rect x="156" y="84" width="3" height="1" fill="#22ab94"/>
<rect x="156" y="112" width="3" height="1" fill="#22ab94"/>
<rect x="156" y="84" width="1" height="29" fill="#22ab94"/>
<rect x="158" y="84" width="1" height="29" fill="#22ab94"/>
<rect x="167" y="171" width="1" height="29" fill="#22ab94"/>
<rect x="167" y="211" width="1" height="2" fill="#22ab94"/>
<rect x="166" y="200" width="3" height="1" fill="#22ab94"/>
<rect x="166" y="210" width="3" height="1" fill="#22ab94"/>
<rect x="166" y="200" width="1" height="11" fill="#22ab94"/>
<rect x="168" y="200" width="1" height="11" fill="#22ab94"/>
<rect x="175" y="175" width="1" height="31" fill="#22ab94"/>
<rect x="174" y="206" width="3" height="1" fill="#22ab94"/>
<rect x="174" y="222" width="3" height="1" fill="#22ab94"/>
<rect x="174" y="206" width="1" height="17" fill="#22ab94"/>
<rect x="176" y="206" width="1" height="17" fill="#22ab94"/>
<rect x="178" y="171" width="1" height="7" fill="#22ab94"/>
<rect x="177" y="178" width="3" height="1" fill="#22ab94"/>
<rect x="177" y="205" width="3" height="1" fill="#22ab94"/>
<rect x="177" y="178" width="1" height="28" fill="#22ab94"/>
<rect x="179" y="178" width="1" height="28" fill="#22ab94"/>
<rect x="183" y="171" width="1" height="5" fill="#22ab94"/>
<rect x="182" y="176" width="3" height="1" fill="#22ab94"/>
<rect x="182" y="191" width="3" height="1" fill="#22ab94"/>
<rect x="182" y="176" width="1" height="16" fill="#22ab94"/>
<rect x="184" y="176" width="1" height="16" fill="#22ab94"/>
<rect x="186" y="166" width="1" height="4" fill="#22ab94"/>
<rect x="185" y="170" width="3" height="1" fill="#22ab94"/>
<rect x="185" y="175" width="3" height="1" fill="#22ab94"/>
<rect x="185" y="170" width="1" height="6" fill="#22ab94"/>
<rect x="187" y="170" width="1" height="6" fill="#22ab94"/>
<rect x="189" y="163" width="1" height="4" fill="#22ab94"/>
<rect x="188" y="167" width="3" height="1" fill="#22ab94"/>
<rect x="188" y="169" width="3" height="1" fill="#22ab94"/>
<rect x="188" y="167" width="1" height="3" fill="#22ab94"/>
<rect x="190" y="167" width="1" height="3" fill="#22ab94"/>
<rect x="194" y="152" width="1" height="10" fill="#22ab94"/>
<rect x="193" y="162" width="3" height="1" fill="#22ab94"/>
<rect x="193" y="168" width="3" height="1" fill="#22ab94"/>
<rect x="193" y="162" width="1" height="7" fill="#22ab94"/>
<rect x="195" y="162" width="1" height="7" fill="#22ab94"/>
<rect x="197" y="150" width="1" height="4" fill="#22ab94"/>
<rect x="197" y="162" width="1" height="2" fill="#22ab94"/>
<rect x="196" y="154" width="3" height="1" fill="#22ab94"/>
<rect x="196" y="161" width="3" height="1" fill="#22ab94"/>
<rect x="196" y="154" width="1" height="8" fill="#22ab94"/>
<rect x="198" y="154" width="1" height="8" fill="#22ab94"/>
<rect x="205" y="210" width="1" height="6" fill="#22ab94"/>
<rect x="205" y="230" width="1" height="3" fill="#22ab94"/>
<rect x="204" y="216" width="3" height="1" fill="#22ab94"/>
<rect x="204" y="229" width="3" height="1" fill="#22ab94"/>
<rect x="204" y="216" width="1" height="14" fill="#22ab94"/>
<rect x="206" y="216" width="1" height="14" fill="#22ab94"/>
<rect x="210" y="211" width="1" height="5" fill="#22ab94"/>
<rect x="210" y="224" width="1" height="6" fill="#22ab94"/>
<rect x="209" y="216" width="3" height="1" fill="#22ab94"/>
<rect x="209" y="223" width="3" height="1" fill="#22ab94"/>
<rect x="209" y="216" width="1" height="8" fill="#22ab94"/>
<rect x="211" y="216" width="1" height="8" fill="#22ab94"/>
<rect x="213" y="198" width="1" height="8" fill="#22ab94"/>
<rect x="212" y="206" width="3" height="1" fill="#22ab94"/>
<rect x="212" y="215" width="3" height="1" fill="#22ab94"/>
<rect x="212" y="206" width="1" height="10" fill="#22ab94"/>
<rect x="214" y="206" width="1" height="10" fill="#22ab94"/>
<rect x="224" y="195" width="1" height="18" fill="#22ab94"/>
<rect x="223" y="213" width="3" height="1" fill="#22ab94"/>
<rect x="223" y="237" width="3" height="1" fill="#22ab94"/>
<rect x="223" y="213" width="1" height="25" fill="#22ab94"/>
<rect x="225" y="213" width="1" height="25" fill="#22ab94"/>
<rect x="231" y="208" width="3" height="1" fill="#22ab94"/>
<rect x="231" y="215" width="3" height="1" fill="#22ab94"/>
<rect x="231" y="208" width="1" height="8" fill="#22ab94"/>
<rect x="233" y="208" width="1" height="8" fill="#22ab94"/>
<rect x="233" y="203" width="3" height="1" fill="#22ab94"/>
<rect x="233" y="207" width="3" height="1" fill="#22ab94"/>
<rect x="233" y="203" width="1" height="5" fill="#22ab94"/>
<rect x="235" y="203" width="1" height="5" fill="#22ab94"/>
<rect x="244" y="205" width="3" height="1" fill="#22ab94"/>
<rect x="244" y="208" width="3" height="1" fill="#22ab94"/>
<rect x="244" y="205" width="1" height="4" fill="#22ab94"/>
<rect x="246" y="205" width="1" height="4" fill="#22ab94"/>
<rect x="257" y="235" width="3" height="1" fill="#22ab94"/>
<rect x="257" y="239" width="3" height="1" fill="#22ab94"/>
<rect x="257" y="235" width="1" height="5" fill="#22ab94"/>
<rect x="259" y="235" width="1" height="5" fill="#22ab94"/>
<rect x="261" y="214" width="1" height="4" fill="#22ab94"/>
<rect x="260" y="218" width="3" height="1" fill="#22ab94"/>
<rect x="260" y="233" width="3" height="1" fill="#22ab94"/>
<rect x="260" y="218" width="1" height="16" fill="#22ab94"/>
<rect x="262" y="218" width="1" height="16" fill="#22ab94"/>
<rect x="266" y="223" width="3" height="1" fill="#22ab94"/>
<rect x="266" y="227" width="3" height="1" fill="#22ab94"/>
<rect x="266" y="223" width="1" height="5" fill="#22ab94"/>
<rect x="268" y="223" width="1" height="5" fill="#22ab94"/>
<rect x="268" y="220" width="3" height="1" fill="#22ab94"/>
<rect x="268" y="223" width="3" height="1" fill="#22ab94"/>
<rect x="268" y="220" width="1" height="4" fill="#22ab94"/>
<rect x="270" y="220" width="1" height="4" fill="#22ab94"/>
<rect x="272" y="192" width="1" height="13" fill="#22ab94"/>
<rect x="272" y="220" width="1" height="10" fill="#22ab94"/>
<rect x="271" y="205" width="3" height="1" fill="#22ab94"/>
<rect x="271" y="219" width="3" height="1" fill="#22ab94"/>
<rect x="271" y="205" width="1" height="15" fill="#22ab94"/>
<rect x="273" y="205" width="1" height="15" fill="#22ab94"/>
<rect x="291" y="247" width="1" height="3" fill="#22ab94"/>
<rect x="290" y="232" width="3" height="1" fill="#22ab94"/>
<rect x="290" y="246" width="3" height="1" fill="#22ab94"/>
<rect x="290" y="232" width="1" height="15" fill="#22ab94"/>
<rect x="292" y="232" width="1" height="15" fill="#22ab94"/>
<rect x="293" y="223" width="1" height="4" fill="#22ab94"/>
<rect x="292" y="227" width="3" height="1" fill="#22ab94"/>
<rect x="292" y="232" width="3" height="1" fill="#22ab94"/>
<rect x="292" y="227" width="1" height="6" fill="#22ab94"/>
<rect x="294" y="227" width="1" height="6" fill="#22ab94"/>
<rect x="301" y="275" width="1" height="1" fill="#22ab94"/>
<rect x="300" y="271" width="3" height="1" fill="#22ab94"/>
<rect x="300" y="274" width="3" height="1" fill="#22ab94"/>
<rect x="300" y="271" width="1" height="4" fill="#22ab94"/>
<rect x="302" y="271" width="1" height="4" fill="#22ab94"/>
<rect x="304" y="261" width="1" height="6" fill="#22ab94"/>
<rect x="303" y="267" width="3" height="1" fill="#22ab94"/>
<rect x="303" y="270" width="3" height="1" fill="#22ab94"/>
<rect x="303" y="267" width="1" height="4" fill="#22ab94"/>
<rect x="305" y="267" width="1" height="4" fill="#22ab94"/>
<rect x="315" y="313" width="1" height="3" fill="#22ab94"/>
<rect x="315" y="333" width="1" height="22" fill="#22ab94"/>
<rect x="314" y="316" width="3" height="1" fill="#22ab94"/>
<rect x="314" y="332" width="3" height="1" fill="#22ab94"/>
<rect x="314" y="316" width="1" height="17" fill="#22ab94"/>
<rect x="316" y="316" width="1" height="17" fill="#22ab94"/>
<rect x="323" y="340" width="1" height="4" fill="#22ab94"/>
<rect x="323" y="348" width="1" height="4" fill="#22ab94"/>
<rect x="322" y="344" width="3" height="1" fill="#22ab94"/>
<rect x="322" y="347" width="3" height="1" fill="#22ab94"/>
<rect x="322" y="344" width="1" height="4" fill="#22ab94"/>
<rect x="324" y="344" width="1" height="4" fill="#22ab94"/>
<rect x="325" y="317" width="1" height="7" fill="#22ab94"/>
<rect x="324" y="324" width="3" height="1" fill="#22ab94"/>
<rect x="324" y="343" width="3" height="1" fill="#22ab94"/>
<rect x="324" y="324" width="1" height="20" fill="#22ab94"/>
<rect x="326" y="324" width="1" height="20" fill="#22ab94"/>
<rect x="328" y="315" width="1" height="3" fill="#22ab94"/>
<rect x="327" y="318" width="3" height="1" fill="#22ab94"/>
<rect x="327" y="323" width="3" height="1" fill="#22ab94"/>
<rect x="327" y="318" width="1" height="6" fill="#22ab94"/>
<rect x="329" y="318" width="1" height="6" fill="#22ab94"/>
<rect x="336" y="324" width="1" height="2" fill="#22ab94"/>
<rect x="335" y="321" width="3" height="1" fill="#22ab94"/>
<rect x="335" y="323" width="3" height="1" fill="#22ab94"/>
<rect x="335" y="321" width="1" height="3" fill="#22ab94"/>
<rect x="337" y="321" width="1" height="3" fill="#22ab94"/>
<rect x="338" y="309" width="3" height="1" fill="#22ab94"/>
<rect x="338" y="320" width="3" height="1" fill="#22ab94"/>
<rect x="338" y="309" width="1" height="12" fill="#22ab94"/>
<rect x="340" y="309" width="1" height="12" fill="#22ab94"/>
<rect x="344" y="277" width="1" height="4" fill="#22ab94"/>
<rect x="344" y="326" width="1" height="2" fill="#22ab94"/>
<rect x="343" y="281" width="3" height="1" fill="#22ab94"/>
<rect x="343" y="325" width="3" height="1" fill="#22ab94"/>
<rect x="343" y="281" width="1" height="45" fill="#22ab94"/>
<rect x="345" y="281" width="1" height="45" fill="#22ab94"/>
<rect x="349" y="266" width="3" height="1" fill="#22ab94"/>
<rect x="349" y="283" width="3" height="1" fill="#22ab94"/>
<rect x="349" y="266" width="1" height="18" fill="#22ab94"/>
<rect x="351" y="266" width="1" height="18" fill="#22ab94"/>
<rect x="352" y="260" width="1" height="3" fill="#22ab94"/>
<rect x="351" y="263" width="3" height="1" fill="#22ab94"/>
<rect x="351" y="265" width="3" height="1" fill="#22ab94"/>
<rect x="351" y="263" width="1" height="3" fill="#22ab94"/>
<rect x="353" y="263" width="1" height="3" fill="#22ab94"/>
<rect x="355" y="242" width="1" height="2" fill="#22ab94"/>
<rect x="354" y="244" width="3" height="1" fill="#22ab94"/>
<rect x="354" y="262" width="3" height="1" fill="#22ab94"/>
<rect x="354" y="244" width="1" height="19" fill="#22ab94"/>
<rect x="356" y="244" width="1" height="19" fill="#22ab94"/>
<rect x="365" y="255" width="3" height="1" fill="#22ab94"/>
<rect x="365" y="266" width="3" height="1" fill="#22ab94"/>
<rect x="365" y="255" width="1" height="12" fill="#22ab94"/>
<rect x="367" y="255" width="1" height="12" fill="#22ab94"/>
<rect x="368" y="222" width="1" height="14" fill="#22ab94"/>
<rect x="368" y="239" width="1" height="7" fill="#22ab94"/>
<rect x="367" y="236" width="3" height="1" fill="#22ab94"/>
<rect x="367" y="238" width="3" height="1" fill="#22ab94"/>
<rect x="367" y="236" width="1" height="3" fill="#22ab94"/>
<rect x="369" y="236" width="1" height="3" fill="#22ab94"/>
<rect x="370" y="205" width="3" height="1" fill="#22ab94"/>
<rect x="370" y="235" width="3" height="1" fill="#22ab94"/>
<rect x="370" y="205" width="1" height="31" fill="#22ab94"/>
<rect x="372" y="205" width="1" height="31" fill="#22ab94"/>
<rect x="379" y="213" width="1" height="5" fill="#22ab94"/>
<rect x="378" y="218" width="3" height="1" fill="#22ab94"/>
<rect x="384" y="224" width="1" height="2" fill="#22ab94"/>
<rect x="383" y="187" width="3" height="1" fill="#22ab94"/>
<rect x="383" y="223" width="3" height="1" fill="#22ab94"/>
<rect x="383" y="187" width="1" height="37" fill="#22ab94"/>
<rect x="385" y="187" width="1" height="37" fill="#22ab94"/>
<rect x="390" y="179" width="1" height="2" fill="#22ab94"/>
<rect x="389" y="181" width="3" height="1" fill="#22ab94"/>
<rect x="389" y="191" width="3" height="1" fill="#22ab94"/>
<rect x="389" y="181" width="1" height="11" fill="#22ab94"/>
<rect x="391" y="181" width="1" height="11" fill="#22ab94"/>
<rect x="391" y="112" width="3" height="1" fill="#22ab94"/>
<rect x="391" y="163" width="3" height="1" fill="#22ab94"/>
<rect x="391" y="112" width="1" height="52" fill="#22ab94"/>
<rect x="393" y="112" width="1" height="52" fill="#22ab94"/>
<rect x="395" y="98" width="1" height="7" fill="#22ab94"/>
<rect x="395" y="112" width="1" height="4" fill="#22ab94"/>
<rect x="394" y="105" width="3" height="1" fill="#22ab94"/>
<rect x="394" y="111" width="3" height="1" fill="#22ab94"/>
<rect x="394" y="105" width="1" height="7" fill="#22ab94"/>
<rect x="396" y="105" width="1" height="7" fill="#22ab94"/>
<rect x="400" y="114" width="1" height="1" fill="#22ab94"/>
<rect x="400" y="118" width="1" height="3" fill="#22ab94"/>
<rect x="399" y="115" width="3" height="1" fill="#22ab94"/>
<rect x="399" y="117" width="3" height="1" fill="#22ab94"/>
<rect x="399" y="115" width="1" height="3" fill="#22ab94"/>
<rect x="401" y="115" width="1" height="3" fill="#22ab94"/>
<rect x="406" y="117" width="1" height="7" fill="#22ab94"/>
<rect x="406" y="127" width="1" height="2" fill="#22ab94"/>
<rect x="405" y="124" width="3" height="1" fill="#22ab94"/>
<rect x="405" y="126" width="3" height="1" fill="#22ab94"/>
<rect x="405" y="124" width="1" height="3" fill="#22ab94"/>
<rect x="407" y="124" width="1" height="3" fill="#22ab94"/>
<rect x="419" y="152" width="1" height="18" fill="#22ab94"/>
<rect x="419" y="182" width="1" height="2" fill="#22ab94"/>
<rect x="418" y="170" width="3" height="1" fill="#22ab94"/>
<rect x="418" y="181" width="3" height="1" fill="#22ab94"/>
<rect x="418" y="170" width="1" height="12" fill="#22ab94"/>
<rect x="420" y="170" width="1" height="12" fill="#22ab94"/>
<rect x="425" y="164" width="1" height="9" fill="#22ab94"/>
<rect x="424" y="173" width="3" height="1" fill="#22ab94"/>
<rect x="430" y="169" width="1" height="6" fill="#22ab94"/>
<rect x="429" y="175" width="3" height="1" fill="#22ab94"/>
<rect x="429" y="177" width="3" height="1" fill="#22ab94"/>
<rect x="429" y="175" width="1" height="3" fill="#22ab94"/>
<rect x="431" y="175" width="1" height="3" fill="#22ab94"/>
<rect x="433" y="170" width="1" height="3" fill="#22ab94"/>
<rect x="432" y="173" width="3" height="1" fill="#22ab94"/>
<rect x="435" y="165" width="1" height="3" fill="#22ab94"/>
<rect x="434" y="168" width="3" height="1" fill="#22ab94"/>
<rect x="434" y="173" width="3" height="1" fill="#22ab94"/>
<rect x="434" y="168" width="1" height="6" fill="#22ab94"/>
<rect x="436" y="168" width="1" height="6" fill="#22ab94"/>
<rect x="437" y="165" width="3" height="1" fill="#22ab94"/>
<rect x="437" y="167" width="3" height="1" fill="#22ab94"/>
<rect x="437" y="165" width="1" height="3" fill="#22ab94"/>
<rect x="439" y="165" width="1" height="3" fill="#22ab94"/>
<rect x="446" y="205" width="1" height="3" fill="#22ab94"/>
<rect x="445" y="208" width="3" height="1" fill="#22ab94"/>
<rect x="445" y="213" width="3" height="1" fill="#22ab94"/>
<rect x="445" y="208" width="1" height="6" fill="#22ab94"/>
<rect x="447" y="208" width="1" height="6" fill="#22ab94"/>
<rect x="454" y="233" width="1" height="9" fill="#22ab94"/>
<rect x="454" y="246" width="1" height="5" fill="#22ab94"/>
<rect x="453" y="242" width="3" height="1" fill="#22ab94"/>
<rect x="453" y="245" width="3" height="1" fill="#22ab94"/>
<rect x="453" y="242" width="1" height="4" fill="#22ab94"/>
<rect x="455" y="242" width="1" height="4" fill="#22ab94"/>
<rect x="462" y="241" width="1" height="3" fill="#22ab94"/>
<rect x="462" y="247" width="1" height="4" fill="#22ab94"/>
<rect x="461" y="244" width="3" height="1" fill="#22ab94"/>
<rect x="461" y="246" width="3" height="1" fill="#22ab94"/>
<rect x="461" y="244" width="1" height="3" fill="#22ab94"/>
<rect x="463" y="244" width="1" height="3" fill="#22ab94"/>
<rect x="475" y="287" width="1" height="16" fill="#22ab94"/>
<rect x="474" y="303" width="3" height="1" fill="#22ab94"/>
<rect x="497" y="398" width="1" height="3" fill="#22ab94"/>
<rect x="497" y="410" width="1" height="14" fill="#22ab94"/>
<rect x="496" y="401" width="3" height="1" fill="#22ab94"/>
<rect x="496" y="409" width="3" height="1" fill="#22ab94"/>
<rect x="496" y="401" width="1" height="9" fill="#22ab94"/>
<rect x="498" y="401" width="1" height="9" fill="#22ab94"/>
<rect x="499" y="376" width="3" height="1" fill="#22ab94"/>
<rect x="499" y="399" width="3" height="1" fill="#22ab94"/>
<rect x="499" y="376" width="1" height="24" fill="#22ab94"/>
<rect x="501" y="376" width="1" height="24" fill="#22ab94"/>
<rect x="501" y="349" width="3" height="1" fill="#22ab94"/>
<rect x="501" y="375" width="3" height="1" fill="#22ab94"/>
<rect x="501" y="349" width="1" height="27" fill="#22ab94"/>
<rect x="503" y="349" width="1" height="27" fill="#22ab94"/>
<rect x="505" y="313" width="1" height="15" fill="#22ab94"/>
<rect x="504" y="328" width="3" height="1" fill="#22ab94"/>
<rect x="504" y="348" width="3" height="1" fill="#22ab94"/>
<rect x="504" y="328" width="1" height="21" fill="#22ab94"/>
<rect x="506" y="328" width="1" height="21" fill="#22ab94"/>
<rect x="510" y="328" width="1" height="15" fill="#22ab94"/>
<rect x="509" y="343" width="3" height="1" fill="#22ab94"/>
<rect x="509" y="346" width="3" height="1" fill="#22ab94"/>
<rect x="509" y="343" width="1" height="4" fill="#22ab94"/>
<rect x="511" y="343" width="1" height="4" fill="#22ab94"/>
<rect x="513" y="291" width="1" height="33" fill="#22ab94"/>
<rect x="512" y="324" width="3" height="1" fill="#22ab94"/>
<rect x="512" y="334" width="3" height="1" fill="#22ab94"/>
<rect x="512" y="324" width="1" height="11" fill="#22ab94"/>
<rect x="514" y="324" width="1" height="11" fill="#22ab94"/>
<rect x="521" y="317" width="1" height="9" fill="#22ab94"/>
<rect x="520" y="326" width="3" height="1" fill="#22ab94"/>
<rect x="520" y="341" width="3" height="1" fill="#22ab94"/>
<rect x="520" y="326" width="1" height="16" fill="#22ab94"/>
<rect x="522" y="326" width="1" height="16" fill="#22ab94"/>
<rect x="525" y="314" width="3" height="1" fill="#22ab94"/>
<rect x="525" y="335" width="3" height="1" fill="#22ab94"/>
<rect x="525" y="314" width="1" height="22" fill="#22ab94"/>
<rect x="527" y="314" width="1" height="22" fill="#22ab94"/>
<rect x="529" y="298" width="1" height="6" fill="#22ab94"/>
<rect x="528" y="304" width="3" height="1" fill="#22ab94"/>
<rect x="528" y="313" width="3" height="1" fill="#22ab94"/>
<rect x="528" y="304" width="1" height="10" fill="#22ab94"/>
<rect x="530" y="304" width="1" height="10" fill="#22ab94"/>
<rect x="532" y="294" width="1" height="2" fill="#22ab94"/>
<rect x="532" y="304" width="1" height="4" fill="#22ab94"/>
<rect x="531" y="296" width="3" height="1" fill="#22ab94"/>
<rect x="531" y="303" width="3" height="1" fill="#22ab94"/>
<rect x="531" y="296" width="1" height="8" fill="#22ab94"/>
<rect x="533" y="296" width="1" height="8" fill="#22ab94"/>
<rect x="533" y="285" width="3" height="1" fill="#22ab94"/>
<rect x="533" y="295" width="3" height="1" fill="#22ab94"/>
<rect x="533" y="285" width="1" height="11" fill="#22ab94"/>
<rect x="535" y="285" width="1" height="11" fill="#22ab94"/>
<rect x="537" y="232" width="1" height="3" fill="#22ab94"/>
<rect x="536" y="235" width="3" height="1" fill="#22ab94"/>
<rect x="536" y="274" width="3" height="1" fill="#22ab94"/>
<rect x="536" y="235" width="1" height="40" fill="#22ab94"/>
<rect x="538" y="235" width="1" height="40" fill="#22ab94"/>
<rect x="541" y="218" width="3" height="1" fill="#22ab94"/>
<rect x="541" y="237" width="3" height="1" fill="#22ab94"/>
<rect x="541" y="218" width="1" height="20" fill="#22ab94"/>
<rect x="543" y="218" width="1" height="20" fill="#22ab94"/>
<rect x="548" y="257" width="1" height="10" fill="#22ab94"/>
<rect x="548" y="274" width="1" height="26" fill="#22ab94"/>
<rect x="547" y="267" width="3" height="1" fill="#22ab94"/>
<rect x="547" y="273" width="3" height="1" fill="#22ab94"/>
<rect x="547" y="267" width="1" height="7" fill="#22ab94"/>
<rect x="549" y="267" width="1" height="7" fill="#22ab94"/>
<rect x="551" y="252" width="1" height="13" fill="#22ab94"/>
<rect x="550" y="265" width="3" height="1" fill="#22ab94"/>
<rect x="550" y="267" width="3" height="1" fill="#22ab94"/>
<rect x="550" y="265" width="1" height="3" fill="#22ab94"/>
<rect x="552" y="265" width="1" height="3" fill="#22ab94"/>
<rect x="553" y="266" width="1" height="4" fill="#22ab94"/>
<rect x="552" y="256" width="3" height="1" fill="#22ab94"/>
<rect x="552" y="265" width="3" height="1" fill="#22ab94"/>
<rect x="552" y="256" width="1" height="10" fill="#22ab94"/>
<rect x="554" y="256" width="1" height="10" fill="#22ab94"/>
<rect x="556" y="192" width="1" height="2" fill="#22ab94"/>
<rect x="555" y="194" width="3" height="1" fill="#22ab94"/>
<rect x="555" y="255" width="3" height="1" fill="#22ab94"/>
<rect x="555" y="194" width="1" height="62" fill="#22ab94"/>
<rect x="557" y="194" width="1" height="62" fill="#22ab94"/>
<rect x="561" y="161" width="1" height="18" fill="#22ab94"/>
<rect x="561" y="181" width="1" height="10" fill="#22ab94"/>
<rect x="560" y="179" width="3" height="2" fill="#22ab94"/>
<rect x="564" y="167" width="1" height="9" fill="#22ab94"/>
<rect x="564" y="179" width="1" height="9" fill="#22ab94"/>
<rect x="563" y="176" width="3" height="1" fill="#22ab94"/>
<rect x="563" y="178" width="3" height="1" fill="#22ab94"/>
<rect x="563" y="176" width="1" height="3" fill="#22ab94"/>
<rect x="565" y="176" width="1" height="3" fill="#22ab94"/>
<rect x="568" y="188" width="3" height="1" fill="#22ab94"/>
<rect x="568" y="190" width="3" height="1" fill="#22ab94"/>
<rect x="568" y="188" width="1" height="3" fill="#22ab94"/>
<rect x="570" y="188" width="1" height="3" fill="#22ab94"/>
<rect x="577" y="189" width="1" height="2" fill="#22ab94"/>
<rect x="576" y="191" width="3" height="1" fill="#22ab94"/>
<rect x="576" y="203" width="3" height="1" fill="#22ab94"/>
<rect x="576" y="191" width="1" height="13" fill="#22ab94"/>
<rect x="578" y="191" width="1" height="13" fill="#22ab94"/>
<rect x="580" y="187" width="1" height="3" fill="#22ab94"/>
<rect x="579" y="190" width="3" height="2" fill="#22ab94"/>
<rect x="585" y="169" width="1" height="19" fill="#22ab94"/>
<rect x="584" y="188" width="3" height="1" fill="#22ab94"/>
<rect x="584" y="199" width="3" height="1" fill="#22ab94"/>
<rect x="584" y="188" width="1" height="12" fill="#22ab94"/>
<rect x="586" y="188" width="1" height="12" fill="#22ab94"/>
<rect x="591" y="215" width="1" height="10" fill="#22ab94"/>
<rect x="591" y="228" width="1" height="4" fill="#22ab94"/>
<rect x="590" y="225" width="3" height="1" fill="#22ab94"/>
<rect x="590" y="227" width="3" height="1" fill="#22ab94"/>
<rect x="590" y="225" width="1" height="3" fill="#22ab94"/>
<rect x="592" y="225" width="1" height="3" fill="#22ab94"/>
<rect x="596" y="225" width="1" height="5" fill="#22ab94"/>
<rect x="595" y="230" width="3" height="1" fill="#22ab94"/>
<rect x="595" y="235" width="3" height="1" fill="#22ab94"/>
<rect x="595" y="230" width="1" height="6" fill="#22ab94"/>
<rect x="597" y="230" width="1" height="6" fill="#22ab94"/>
<rect x="601" y="235" width="1" height="5" fill="#22ab94"/>
<rect x="600" y="219" width="3" height="1" fill="#22ab94"/>
<rect x="600" y="234" width="3" height="1" fill="#22ab94"/>
<rect x="600" y="219" width="1" height="16" fill="#22ab94"/>
<rect x="602" y="219" width="1" height="16" fill="#22ab94"/>
<rect x="603" y="217" width="3" height="1" fill="#22ab94"/>
<rect x="603" y="219" width="3" height="1" fill="#22ab94"/>
<rect x="603" y="217" width="1" height="3" fill="#22ab94"/>
<rect x="605" y="217" width="1" height="3" fill="#22ab94"/>
<rect x="606" y="210" width="3" height="1" fill="#22ab94"/>
<rect x="606" y="216" width="3" height="1" fill="#22ab94"/>
<rect x="606" y="210" width="1" height="7" fill="#22ab94"/>
<rect x="608" y="210" width="1" height="7" fill="#22ab94"/>
<rect x="617" y="256" width="1" height="3" fill="#22ab94"/>
<rect x="616" y="254" width="3" height="2" fill="#22ab94"/>
<rect x="620" y="249" width="1" height="1" fill="#22ab94"/>
<rect x="619" y="250" width="3" height="1" fill="#22ab94"/>
<rect x="619" y="254" width="3" height="1" fill="#22ab94"/>
<rect x="619" y="250" width="1" height="5" fill="#22ab94"/>
<rect x="621" y="250" width="1" height="5" fill="#22ab94"/>
<rect x="628" y="251" width="1" height="3" fill="#22ab94"/>
<rect x="627" y="254" width="3" height="1" fill="#22ab94"/>
<rect x="627" y="256" width="3" height="1" fill="#22ab94"/>
<rect x="627" y="254" width="1" height="3" fill="#22ab94"/>
<rect x="629" y="254" width="1" height="3" fill="#22ab94"/>
<rect x="634" y="273" width="1" height="14" fill="#22ab94"/>
<rect x="633" y="251" width="3" height="1" fill="#22ab94"/>
<rect x="633" y="272" width="3" height="1" fill="#22ab94"/>
<rect x="633" y="251" width="1" height="22" fill="#22ab94"/>
<rect x="635" y="251" width="1" height="22" fill="#22ab94"/>
<rect x="636" y="232" width="1" height="6" fill="#22ab94"/>
<rect x="635" y="238" width="3" height="1" fill="#22ab94"/>
<rect x="635" y="250" width="3" height="1" fill="#22ab94"/>
<rect x="635" y="238" width="1" height="13" fill="#22ab94"/>
<rect x="637" y="238" width="1" height="13" fill="#22ab94"/>
<rect x="641" y="236" width="3" height="1" fill="#22ab94"/>
<rect x="641" y="245" width="3" height="1" fill="#22ab94"/>
<rect x="641" y="236" width="1" height="10" fill="#22ab94"/>
<rect x="643" y="236" width="1" height="10" fill="#22ab94"/>
<rect x="644" y="229" width="1" height="3" fill="#22ab94"/>
<rect x="643" y="232" width="3" height="1" fill="#22ab94"/>
<rect x="643" y="235" width="3" height="1" fill="#22ab94"/>
<rect x="643" y="232" width="1" height="4" fill="#22ab94"/>
<rect x="645" y="232" width="1" height="4" fill="#22ab94"/>
<rect x="655" y="247" width="1" height="4" fill="#22ab94"/>
<rect x="654" y="242" width="3" height="1" fill="#22ab94"/>
<rect x="654" y="246" width="3" height="1" fill="#22ab94"/>
<rect x="654" y="242" width="1" height="5" fill="#22ab94"/>
<rect x="656" y="242" width="1" height="5" fill="#22ab94"/>
<rect x="663" y="283" width="1" height="6" fill="#22ab94"/>
<rect x="662" y="281" width="3" height="2" fill="#22ab94"/>
<rect x="666" y="267" width="1" height="8" fill="#22ab94"/>
<rect x="665" y="275" width="3" height="1" fill="#22ab94"/>
<rect x="665" y="281" width="3" height="1" fill="#22ab94"/>
<rect x="665" y="275" width="1" height="7" fill="#22ab94"/>
<rect x="667" y="275" width="1" height="7" fill="#22ab94"/>
<rect x="671" y="271" width="1" height="2" fill="#22ab94"/>
<rect x="670" y="273" width="3" height="1" fill="#22ab94"/>
<rect x="670" y="279" width="3" height="1" fill="#22ab94"/>
<rect x="670" y="273" width="1" height="7" fill="#22ab94"/>
<rect x="672" y="273" width="1" height="7" fill="#22ab94"/>
<rect x="674" y="269" width="1" height="3" fill="#22ab94"/>
<rect x="673" y="272" width="3" height="1" fill="#22ab94"/>
<rect x="679" y="282" width="1" height="3" fill="#22ab94"/>
<rect x="678" y="285" width="3" height="1" fill="#22ab94"/>
<rect x="678" y="287" width="3" height="1" fill="#22ab94"/>
<rect x="678" y="285" width="1" height="3" fill="#22ab94"/>
<rect x="680" y="285" width="1" height="3" fill="#22ab94"/>
<rect x="687" y="322" width="1" height="4" fill="#22ab94"/>
<rect x="687" y="329" width="1" height="7" fill="#22ab94"/>
<rect x="686" y="326" width="3" height="1" fill="#22ab94"/>
<rect x="686" y="328" width="3" height="1" fill="#22ab94"/>
<rect x="686" y="326" width="1" height="3" fill="#22ab94"/>
<rect x="688" y="326" width="1" height="3" fill="#22ab94"/>
<rect x="692" y="329" width="1" height="2" fill="#22ab94"/>
<rect x="691" y="331" width="3" height="1" fill="#22ab94"/>
<rect x="691" y="335" width="3" height="1" fill="#22ab94"/>
<rect x="691" y="331" width="1" height="5" fill="#22ab94"/>
<rect x="693" y="331" width="1" height="5" fill="#22ab94"/>
<rect x="700" y="336" width="3" height="1" fill="#22ab94"/>
<rect x="700" y="343" width="3" height="1" fill="#22ab94"/>
<rect x="700" y="336" width="1" height="8" fill="#22ab94"/>
<rect x="702" y="336" width="1" height="8" fill="#22ab94"/>
<rect x="703" y="323" width="1" height="2" fill="#22ab94"/>
<rect x="702" y="325" width="3" height="1" fill="#22ab94"/>
<rect x="702" y="335" width="3" height="1" fill="#22ab94"/>
<rect x="702" y="325" width="1" height="11" fill="#22ab94"/>
<rect x="704" y="325" width="1" height="11" fill="#22ab94"/>
<rect x="706" y="308" width="1" height="16" fill="#22ab94"/>
<rect x="706" y="325" width="1" height="20" fill="#22ab94"/>
<rect x="705" y="324" width="3" height="1" fill="#22ab94"/>
<rect x="714" y="346" width="1" height="4" fill="#22ab94"/>
<rect x="714" y="356" width="1" height="2" fill="#22ab94"/>
<rect x="713" y="350" width="3" height="1" fill="#22ab94"/>
<rect x="713" y="355" width="3" height="1" fill="#22ab94"/>
<rect x="713" y="350" width="1" height="6" fill="#22ab94"/>
<rect x="715" y="350" width="1" height="6" fill="#22ab94"/>
<rect x="725" y="351" width="1" height="8" fill="#22ab94"/>
<rect x="724" y="359" width="3" height="1" fill="#22ab94"/>
<rect x="724" y="361" width="3" height="1" fill="#22ab94"/>
<rect x="724" y="359" width="1" height="3" fill="#22ab94"/>
<rect x="726" y="359" width="1" height="3" fill="#22ab94"/>
<rect x="726" y="358" width="3" height="1" fill="#22ab94"/>
<rect x="733" y="397" width="1" height="14" fill="#22ab94"/>
<rect x="732" y="396" width="3" height="1" fill="#22ab94"/>
<rect x="735" y="381" width="1" height="3" fill="#22ab94"/>
<rect x="734" y="384" width="3" height="1" fill="#22ab94"/>
<rect x="734" y="395" width="3" height="1" fill="#22ab94"/>
<rect x="734" y="384" width="1" height="12" fill="#22ab94"/>
<rect x="736" y="384" width="1" height="12" fill="#22ab94"/>
<rect x="740" y="366" width="3" height="1" fill="#22ab94"/>
<rect x="740" y="388" width="3" height="1" fill="#22ab94"/>
<rect x="740" y="366" width="1" height="23" fill="#22ab94"/>
<rect x="742" y="366" width="1" height="23" fill="#22ab94"/>
<rect x="743" y="366" width="1" height="4" fill="#22ab94"/>
<rect x="742" y="358" width="3" height="1" fill="#22ab94"/>
<rect x="742" y="365" width="3" height="1" fill="#22ab94"/>
<rect x="742" y="358" width="1" height="8" fill="#22ab94"/>
<rect x="744" y="358" width="1" height="8" fill="#22ab94"/>
<rect x="745" y="351" width="3" height="1" fill="#22ab94"/>
<rect x="745" y="357" width="3" height="1" fill="#22ab94"/>
<rect x="745" y="351" width="1" height="7" fill="#22ab94"/>
<rect x="747" y="351" width="1" height="7" fill="#22ab94"/>
<rect x="749" y="342" width="1" height="2" fill="#22ab94"/>
<rect x="748" y="344" width="3" height="1" fill="#22ab94"/>
<rect x="748" y="350" width="3" height="1" fill="#22ab94"/>
<rect x="748" y="344" width="1" height="7" fill="#22ab94"/>
<rect x="750" y="344" width="1" height="7" fill="#22ab94"/>
<rect x="754" y="306" width="1" height="6" fill="#22ab94"/>
<rect x="753" y="312" width="3" height="1" fill="#22ab94"/>
<rect x="753" y="339" width="3" height="1" fill="#22ab94"/>
<rect x="753" y="312" width="1" height="28" fill="#22ab94"/>
<rect x="755" y="312" width="1" height="28" fill="#22ab94"/>
<rect x="757" y="282" width="1" height="15" fill="#22ab94"/>
<rect x="756" y="297" width="3" height="1" fill="#22ab94"/>
<rect x="756" y="311" width="3" height="1" fill="#22ab94"/>
<rect x="756" y="297" width="1" height="15" fill="#22ab94"/>
<rect x="758" y="297" width="1" height="15" fill="#22ab94"/>
<rect x="759" y="290" width="1" height="3" fill="#22ab94"/>
<rect x="758" y="293" width="3" height="1" fill="#22ab94"/>
<rect x="758" y="296" width="3" height="1" fill="#22ab94"/>
<rect x="758" y="293" width="1" height="4" fill="#22ab94"/>
<rect x="760" y="293" width="1" height="4" fill="#22ab94"/>
<rect x="768" y="305" width="1" height="4" fill="#22ab94"/>
<rect x="768" y="313" width="1" height="5" fill="#22ab94"/>
<rect x="767" y="309" width="3" height="1" fill="#22ab94"/>
<rect x="767" y="312" width="3" height="1" fill="#22ab94"/>
<rect x="767" y="309" width="1" height="4" fill="#22ab94"/>
<rect x="769" y="309" width="1" height="4" fill="#22ab94"/>
<rect x="776" y="308" width="1" height="4" fill="#22ab94"/>
<rect x="776" y="313" width="1" height="5" fill="#22ab94"/>
<rect x="775" y="312" width="3" height="1" fill="#22ab94"/>
<rect x="786" y="342" width="1" height="9" fill="#22ab94"/>
<rect x="786" y="354" width="1" height="2" fill="#22ab94"/>
<rect x="785" y="351" width="3" height="1" fill="#22ab94"/>
<rect x="785" y="353" width="3" height="1" fill="#22ab94"/>
<rect x="785" y="351" width="1" height="3" fill="#22ab94"/>
<rect x="787" y="351" width="1" height="3" fill="#22ab94"/>
<rect x="791" y="351" width="3" height="1" fill="#22ab94"/>
<rect x="791" y="358" width="3" height="1" fill="#22ab94"/>
<rect x="791" y="351" width="1" height="8" fill="#22ab94"/>
<rect x="793" y="351" width="1" height="8" fill="#22ab94"/>
<rect x="794" y="342" width="1" height="2" fill="#22ab94"/>
<rect x="793" y="344" width="3" height="1" fill="#22ab94"/>
<rect x="793" y="350" width="3" height="1" fill="#22ab94"/>
<rect x="793" y="344" width="1" height="7" fill="#22ab94"/>
<rect x="795" y="344" width="1" height="7" fill="#22ab94"/>
<rect x="800" y="341" width="1" height="3" fill="#22ab94"/>
<rect x="799" y="344" width="3" height="1" fill="#22ab94"/>
<rect x="799" y="347" width="3" height="1" fill="#22ab94"/>
<rect x="799" y="344" width="1" height="4" fill="#22ab94"/>
<rect x="801" y="344" width="1" height="4" fill="#22ab94"/>
<rect x="11" y="282" width="1" height="66" fill="#22ab94" opacity="0.7"/>
</g>
<g clip-path="url(#cp)">
<line x1="10" y1="354.5" x2="1228" y2="354.5" stroke="#f7525f" stroke-width="1" stroke-dasharray="1 2"/>
<polyline points="812.8,362.2 834.4,403.4 901.9,188.8 933.7,259.8 971.3,147.6 1012,219.3 1047.4,153.5 1113.3,249.4" fill="none" stroke="#2962ff" stroke-width="2" stroke-linejoin="round"/>
<line x1="159.5" y1="78.5" x2="1228" y2="167.3" stroke="#000000" stroke-width="1"/>
<line x1="497.5" y1="423.5" x2="1228" y2="383" stroke="#000000" stroke-width="1"/>
</g>
</svg>
<div class="pbox"></div>
<div class="t" style="left:9.7px;top:9.0px;font-size:12.8px;transform:scaleX(0.925);color:#2a2a2a;">Опубликовано на TradingView.com, Июн 10, 2022 12:36 UTC+3</div>
<div class="t" style="left:18.18px;top:36.0px;font-size:12.5px;transform:scaleX(0.8205);color:#7a7a7a;">IMOEX</div>
<div class="t" style="left:57.06px;top:36.0px;font-size:12.5px;transform:scaleX(0.9375);color:#7a7a7a;">ОТКР</div>
<div class="t" style="left:87.05px;top:36.0px;font-size:12.5px;transform:scaleX(0.9545);color:#f7525f;">2285.14</div>
<div class="t" style="left:136.06px;top:36.0px;font-size:12.5px;transform:scaleX(0.9394);color:#7a7a7a;">МАКС</div>
<div class="t" style="left:167.05px;top:36.0px;font-size:12.5px;transform:scaleX(0.9545);color:#f7525f;">2287.26</div>
<div class="t" style="left:216.07px;top:36.0px;font-size:12.5px;transform:scaleX(0.9259);color:#7a7a7a;">МИН</div>
<div class="t" style="left:241.05px;top:36.0px;font-size:12.5px;transform:scaleX(0.9545);color:#f7525f;">2283.73</div>
<div class="t" style="left:290.07px;top:36.0px;font-size:12.5px;transform:scaleX(0.9333);color:#7a7a7a;">ЗАКР</div>
<div class="t" style="left:318.05px;top:36.0px;font-size:12.5px;transform:scaleX(0.9545);color:#f7525f;">2285.02</div>
<div class="t" style="left:368.08px;top:36.0px;font-size:12.5px;transform:scaleX(0.9176);color:#f7525f;">−0.46 (−0.02%)</div>
<div class="t" style="left:1238.16px;top:35.0px;font-size:12.5px;transform:scaleX(0.84);color:#6b6b6b;">RUB</div>
<div class="t" style="left:1238.1px;top:80px;font-size:12.5px;transform:scaleX(0.935);color:#6b6b6b;">2500.00</div>
<div class="t" style="left:1238.1px;top:112px;font-size:12.5px;transform:scaleX(0.935);color:#6b6b6b;">2475.00</div>
<div class="t" style="left:1238.1px;top:143px;font-size:12.5px;transform:scaleX(0.935);color:#6b6b6b;">2450.00</div>
<div class="t" style="left:1238.1px;top:174px;font-size:12.5px;transform:scaleX(0.935);color:#6b6b6b;">2425.00</div>
<div class="t" style="left:1238.1px;top:205px;font-size:12.5px;transform:scaleX(0.935);color:#6b6b6b;">2400.00</div>
<div class="t" style="left:1238.1px;top:236px;font-size:12.5px;transform:scaleX(0.935);color:#6b6b6b;">2375.00</div>
<div class="t" style="left:1238.1px;top:268px;font-size:12.5px;transform:scaleX(0.935);color:#6b6b6b;">2350.00</div>
<div class="t" style="left:1238.1px;top:299px;font-size:12.5px;transform:scaleX(0.935);color:#6b6b6b;">2325.00</div>
<div class="t" style="left:1238.1px;top:330px;font-size:12.5px;transform:scaleX(0.935);color:#6b6b6b;">2300.00</div>
<div class="t" style="left:1238.1px;top:361px;font-size:12.5px;transform:scaleX(0.935);color:#6b6b6b;">2275.00</div>
<div class="t" style="left:1238.1px;top:392px;font-size:12.5px;transform:scaleX(0.935);color:#6b6b6b;">2250.00</div>
<div class="t" style="left:1238.1px;top:424px;font-size:12.5px;transform:scaleX(0.935);color:#6b6b6b;">2225.00</div>
<div class="t" style="left:1238.1px;top:455px;font-size:12.5px;transform:scaleX(0.935);color:#6b6b6b;">2200.00</div>
<div class="t" style="left:1238.1px;top:486px;font-size:12.5px;transform:scaleX(0.935);color:#6b6b6b;">2175.00</div>
<div class="t" style="left:1238.1px;top:517px;font-size:12.5px;transform:scaleX(0.935);color:#6b6b6b;">2150.00</div>
<div class="t" style="left:1238.1px;top:49px;font-size:12.5px;transform:scaleX(0.935);color:#9a9a9a;">2525.00</div>
<div style="position:absolute;left:1232px;top:45px;width:56px;height:8px;background:linear-gradient(#fff 0%,#fff 55%,rgba(255,255,255,0.3) 100%)"></div>
<div class="t" style="left:1238.1px;top:349.0px;font-size:12.5px;transform:scaleX(0.935);color:#ffffff;-webkit-text-stroke:0.4px #fff;">2285.02</div>
<div class="t" style="left:33.0px;top:581.0px;font-size:13px;transform:scaleX(0.9861);color:#2f323b;">TradingView</div>
<div class="tl" style="left:39.0px">25</div>
<div class="tl b" style="left:159.5px">Май</div>
<div class="tl" style="left:304.3px">16</div>
<div class="tl" style="left:424.7px">23</div>
<div class="tl" style="left:510.7px">15:00</div>
<div class="tl b" style="left:593.7px">Июн</div>
<div class="tl" style="left:690.0px">7</div>
<div class="tl" style="left:786.6px">13</div>
<div class="tl" style="left:906.9px">20</div>
<div class="tl" style="left:1027.3px">27</div>
<div class="tl b" style="left:1124.0px">Июл</div>
<svg width="1302" height="605" style="pointer-events:none">
<g fill="#131722">
<path d="M10 582H18V592H14V586H10Z"/>
<circle cx="21.3" cy="584" r="1.9"/>
<path d="M24.5 582H29.5L26 592H21Z"/>
</g>
</svg>
</body></html>
